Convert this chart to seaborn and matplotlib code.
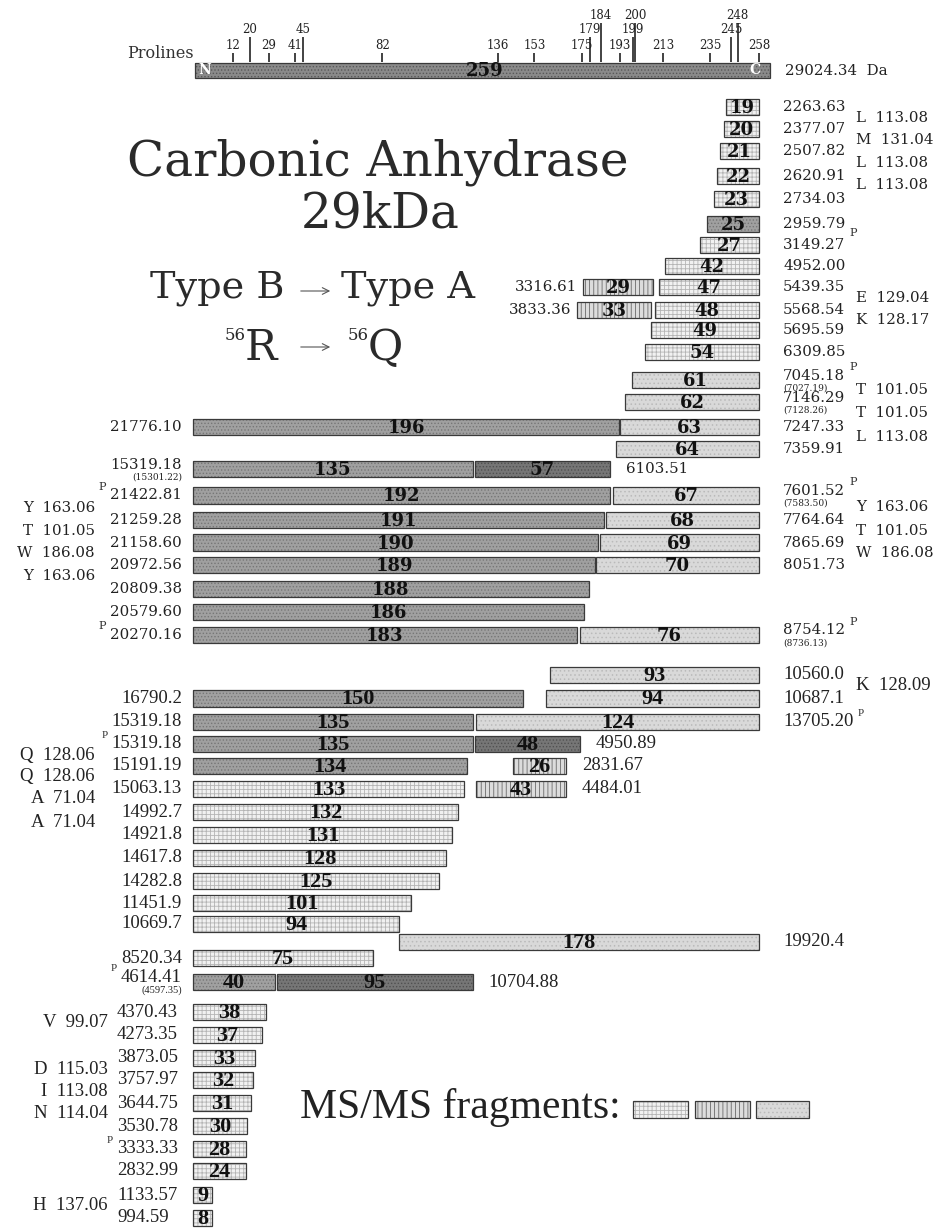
#!/usr/bin/env python3
"""Carbonic anhydrase 29kDa - MS/MS fragment map, redrawn with seaborn/matplotlib."""
import matplotlib

matplotlib.use("Agg")
import matplotlib.pyplot as plt  # noqa: E402
import pandas as pd  # noqa: E402
import seaborn as sns  # noqa: E402

# ---------------------------------------------------------------------------
# Data
# ---------------------------------------------------------------------------
N_RES = 259
PROTEIN_MASS = "29024.34"
PROLINES = [12, 20, 29, 41, 45, 82, 136, 153, 175, 179, 184, 193, 199, 200,
            213, 235, 245, 248, 258]
PROLINE_TIER = [0, 1, 0, 0, 1, 0, 0, 0, 0, 1, 2, 0, 1, 2, 0, 0, 1, 2, 0]

# one entry per fragment bar (start/end in residues as drawn, track = row)
frag_label = [19, 20, 21, 22, 23, 25, 27, 42, 29, 47, 33, 48, 49, 54, 61, 62,
              196, 63, 64, 135, 57, 192, 67, 191, 68, 190, 69, 189, 70, 188,
              186, 183, 76,
              93, 150, 94, 135, 124, 135, 48, 134, 26, 133, 43, 132, 131, 128,
              125, 101, 94, 178, 75, 40, 95, 38, 37, 33, 32, 31, 30, 28, 24,
              9, 8]
frag_track = [0, 0.97, 1.94, 3.04, 4.05, 5.15, 6.08, 7.0, 7.93, 7.93, 8.94,
              8.94, 9.82, 10.79, 12.03, 13.0, 14.1, 14.1, 15.07, 15.95, 15.95,
              17.1, 17.1, 18.19, 18.19, 19.2, 19.2, 20.18, 20.18, 21.23, 22.25,
              23.26, 23.26,
              25.02, 26.04, 26.04, 27.09, 27.09, 28.06, 28.06, 29.03, 29.03,
              30.04, 30.04, 31.06, 32.07, 33.08, 34.1, 35.07, 35.99, 36.78,
              37.49, 38.55, 38.55, 39.87, 40.88, 41.89, 42.86, 43.88, 44.89,
              45.9, 46.87, 47.93, 48.94]
frag_start = [243.9, 243.0, 241.2, 239.8, 238.4, 235.2, 232.0, 216.0, 178.5,
              213.3, 175.7, 211.4, 209.6, 206.9, 200.9, 197.7, 0, 195.4, 193.6,
              0, 129.1, 0, 192.2, 0, 189.0, 0, 186.3, 0, 184.4, 0, 0, 0, 177.1,
              163.4, 0, 161.6, 0, 129.5, 0, 129.1, 0, 146.5, 0, 129.5, 0, 0, 0,
              0, 0, 0, 94.3, 0, 0, 38.4, 0, 0, 0, 0, 0, 0, 0, 0, 0, 0]
frag_end = [259, 259, 259, 259, 259, 259, 259, 259, 210.5, 259, 209.6, 259,
            259, 259, 259, 259, 195.0, 259, 259, 128.1, 190.8, 190.8, 259,
            188.1, 259, 185.4, 259, 184.0, 259, 181.2, 178.9, 175.7, 259,
            259, 151.0, 259, 128.1, 259, 128.1, 177.1, 125.4, 170.7, 124.0,
            170.7, 121.3, 118.5, 115.8, 112.6, 99.8, 94.3, 259, 82.4, 37.5,
            128.1, 33.4, 31.6, 28.4, 27.5, 26.5, 24.7, 24.3, 24.3, 8.7, 8.7]
frag_kind = ["dot", "dot", "dot", "dot", "dot", "mid", "dot", "dot", "grid",
             "dot", "grid", "dot", "dot", "dot", "light", "light", "mid",
             "light", "light", "mid", "dark", "mid", "light", "mid", "light",
             "mid", "light", "mid", "light", "mid", "mid", "mid", "light",
             "light", "mid", "light", "mid", "light", "mid", "dark", "mid",
             "grid", "dot", "grid", "dot", "dot", "dot", "dot", "dot", "dot",
             "light", "dot", "mid", "dark", "dot", "dot", "dot", "dot", "dot",
             "dot", "dot", "dot", "dot", "dot"]
frag_mass = ["2263.63", "2377.07", "2507.82", "2620.91", "2734.03", "2959.79",
             "3149.27", "4952.00", "3316.61", "5439.35", "3833.36", "5568.54",
             "5695.59", "6309.85", "7045.18", "7146.29", "21776.10", "7247.33",
             "7359.91", "15319.18", "6103.51", "21422.81", "7601.52",
             "21259.28", "7764.64", "21158.60", "7865.69", "20972.56",
             "8051.73", "20809.38", "20579.60", "20270.16", "8754.12",
             "10560.0", "16790.2", "10687.1", "15319.18", "13705.20",
             "15319.18", "4950.89", "15191.19", "2831.67", "15063.13",
             "4484.01", "14992.7", "14921.8", "14617.8", "14282.8", "11451.9",
             "10669.7", "19920.4", "8520.34", "4614.41", "10704.88",
             "4370.43", "4273.35", "3873.05", "3757.97", "3644.75", "3530.78",
             "3333.33", "2832.99", "1133.57", "994.59"]
# masses after loss of water, printed under the main value (bar index -> text)
frag_alt = {14: "(7027.19)", 15: "(7128.26)", 19: "(15301.22)",
            22: "(7583.50)", 32: "(8736.13)", 52: "(4597.35)"}
frag_pro = [5, 14, 21, 22, 31, 32, 37, 38, 52, 60]   # bars whose mass carries "P"

# residue differences written between neighbouring rows
right_res = ["L  113.08", "M  131.04", "L  113.08", "L  113.08", "E  129.04",
             "K  128.17", "T  101.05", "T  101.05", "L  113.08", "Y  163.06",
             "T  101.05", "W  186.08", "K  128.09"]
right_res_track = [0.48, 1.45, 2.47, 3.44, 8.4, 9.38, 12.47, 13.48, 14.54,
                   17.6, 18.68, 19.65, 25.5]
left_res = ["Y  163.06", "T  101.05", "W  186.08", "Y  163.06", "Q  128.06",
            "Q  128.06", "A  71.04", "A  71.04", "V  99.07", "D  115.03",
            "I  113.08", "N  114.04", "H  137.06"]
left_res_track = [17.67, 18.68, 19.65, 20.66, 28.55, 29.5, 30.48, 31.5,
                  40.35, 42.4, 43.35, 44.36, 48.4]

# ---------------------------------------------------------------------------
# Layout (pixel geometry of the 944 x 1231 canvas)
# ---------------------------------------------------------------------------
W, H = 944, 1231


def rx(px):   # pixel x -> residue axis of the fragment panel
    return (px - 193) / 2.185


def tx(px):   # pixel x -> residue axis of the full-length bar
    return (px - 207) / 2.14


def ty(py):   # pixel y -> row track
    return (py - 107) / 22.7


STYLES = {
    "dot":   dict(face="#f1f1f1", hatch="++++", hcolor="#b4b4b4"),
    "grid":  dict(face="#dcdcdc", hatch="||||", hcolor="#6a6a6a"),
    "light": dict(face="#d9d9d9", hatch="....", hcolor="#bababa"),
    "mid":   dict(face="#a0a0a0", hatch=".....", hcolor="#767676"),
    "dark":  dict(face="#767676", hatch=".....", hcolor="#505050"),
    "top":   dict(face="#8a8a8a", hatch=".....", hcolor="#585858"),
}
EDGE = "#3a3a3a"
INK = "#222222"
SERIF_UP = "DejaVu Serif"
SERIF_LO = "Liberation Serif"
LOWER_TRACK = 24.5
BOTTOM_TRACK = 39.5

sns.set_theme(style="white")
plt.rcParams["font.family"] = ["DejaVu Serif", "DejaVu Sans"]
plt.rcParams["hatch.linewidth"] = 0.6

df = pd.DataFrame({"label": frag_label, "track": frag_track,
                   "start": frag_start, "end": frag_end,
                   "kind": frag_kind, "mass": frag_mass})
df["width"] = df["end"] - df["start"]
df["lower"] = df["track"] > LOWER_TRACK

fig = plt.figure(figsize=(W / 100, H / 100), dpi=100)
ax = fig.add_axes([0, 0, 1, 1])
ax.set_xlim(rx(0), rx(W))
ax.set_ylim(ty(H), ty(0))
ax_top = fig.add_axes([0, 0, 1, 1])
ax_top.set_xlim(tx(0), tx(W))
ax_top.set_ylim(ty(H), ty(0))
ax_px = fig.add_axes([0, 0, 1, 1])
ax_px.set_xlim(0, W)
ax_px.set_ylim(H, 0)
for a in (ax, ax_top, ax_px):
    a.axis("off")
    a.patch.set_alpha(0)

BAR_H = 0.74


def styled_barh(a, y, width, left, kind, height):
    st = STYLES[kind]
    a.barh(y, width, left=left, height=height, color=st["face"],
           hatch=st["hatch"], edgecolor=st["hcolor"], linewidth=0)
    a.barh(y, width, left=left, height=height, fill=False,
           edgecolor=EDGE, linewidth=0.9)


# ---- fragment bars --------------------------------------------------------
for kind, grp in df.groupby("kind"):
    styled_barh(ax, grp["track"], grp["width"], grp["start"], kind, BAR_H)

renderer = fig.canvas.get_renderer()
inv = ax.transData.inverted()


def text_extent(t):
    bb = t.get_window_extent(renderer=renderer)
    (x0, _), (x1, _) = inv.transform([(bb.x0, 0), (bb.x1, 0)])
    return x0, x1


c_rows = set(df.loc[df["end"] >= N_RES, "track"])
for i, r in df.iterrows():
    fam = SERIF_LO if r["lower"] else SERIF_UP
    fs_num = 16 if r["lower"] else 13
    fs_mass = 13.5 if r["lower"] else 10.8
    ax.text((r["start"] + r["end"]) / 2, r["track"] + 0.04, str(r["label"]),
            ha="center", va="center", fontsize=fs_num, fontweight="bold",
            family=fam, color="#111111")

    alt = frag_alt.get(i)
    my = r["track"] - (0.2 if alt else 0)
    if r["start"] <= 0 and r["track"] > BOTTOM_TRACK:
        x, ha = rx(117), "left"
    elif r["start"] <= 0:
        x, ha = rx(182), "right"
    elif r["end"] >= N_RES:
        x, ha = rx(783), "left"
    elif r["track"] in c_rows:
        x, ha = r["start"] - 6 / 2.185, "right"
    else:
        x, ha = r["end"] + 16 / 2.185, "left"
    t = ax.text(x, my, r["mass"], ha=ha, va="center", fontsize=fs_mass,
                family=fam, color=INK)
    if alt:
        ax.text(x, my + 0.55, alt, ha=ha, va="center",
                fontsize=7.5 if r["lower"] else 6.5, family=fam, color=INK)
    if i in frag_pro:
        x0, x1 = text_extent(t)
        if ha == "right" or r["start"] <= 0:
            ax.text(x0 - 4 / 2.185, my - 0.38, "P", ha="right", va="center",
                    fontsize=8, family=fam, color="#333333")
        else:
            dy = 0.38 if r["label"] == 25 else -0.38
            ax.text(x1 + 4 / 2.185, my + dy, "P", ha="left", va="center",
                    fontsize=8, family=fam, color="#333333")

# ---- residue differences ---------------------------------------------------
for s, y in zip(right_res, right_res_track):
    lower = y > LOWER_TRACK
    ax.text(rx(856), y, s, ha="left", va="center",
            family=SERIF_LO if lower else SERIF_UP,
            fontsize=13.5 if lower else 10.8, color=INK)
for s, y in zip(left_res, left_res_track):
    lower = y > LOWER_TRACK
    xr = 108 if y > BOTTOM_TRACK else 95
    ax.text(rx(xr), y, s, ha="right", va="center",
            family=SERIF_LO if lower else SERIF_UP,
            fontsize=13.5 if lower else 10.8, color=INK)

# ---- full-length protein bar with prolines --------------------------------
top_y = ty(70)
top_h = 15 / 22.7
styled_barh(ax_top, [top_y], [N_RES + 9.6], [-5.6], "top", top_h)
ax_top.text(N_RES / 2, top_y + 0.04, str(N_RES), ha="center", va="center",
            fontsize=13, fontweight="bold", color="#111111")
ax_top.text(-1.2, top_y + 0.02, "N", ha="center", va="center", fontsize=10,
            fontweight="bold", color="white")
ax_top.text(256, top_y + 0.02, "C", ha="center", va="center", fontsize=10,
            fontweight="bold", color="white")
tier_top = [53, 37, 23]
for p, tier in zip(PROLINES, PROLINE_TIER):
    ax_top.vlines(p, ty(tier_top[tier]), ty(62), color=INK, lw=1.2)
    ax_top.text(p, ty(tier_top[tier] - 1), str(p), ha="center", va="bottom",
                fontsize=8.5, color=INK)
ax_px.text(194, 54, "Prolines", ha="right", va="center", fontsize=11.5,
           color="#333333")
ax_px.text(785, 71, f"{PROTEIN_MASS}  Da", ha="left", va="center",
           fontsize=10.8, color=INK)

# ---- titles -----------------------------------------------------------------
ax_px.text(378, 175, "Carbonic Anhydrase", ha="center", va="baseline",
           fontsize=35, color="#2a2a2a")
ax_px.text(380, 227, "29kDa", ha="center", va="baseline", fontsize=35,
           color="#2a2a2a")
ax_px.text(150, 298, "Type B", ha="left", va="baseline", fontsize=27.5,
           color="#2a2a2a")
ax_px.text(341, 298, "Type A", ha="left", va="baseline", fontsize=27.5,
           color="#2a2a2a")
ax_px.text(245, 360, "R", ha="left", va="baseline", fontsize=31,
           color="#2a2a2a")
ax_px.text(368, 360, "Q", ha="left", va="baseline", fontsize=31,
           color="#2a2a2a")
for x56 in (225, 348):
    ax_px.text(x56, 336, "56", ha="left", va="center", fontsize=12,
               color="#2a2a2a")
for ya in (291, 347):
    ax_px.annotate("", xy=(333, ya), xytext=(298, ya),
                   arrowprops=dict(arrowstyle="->", lw=0.8, color="#555555"))

# ---- legend ---------------------------------------------------------------
ax_px.text(300, 1118, "MS/MS fragments:", ha="left", va="baseline",
           fontsize=30, family=SERIF_LO, color=INK)
for kind, (x0, x1) in zip(["dot", "grid", "light"],
                          [(633, 688), (695, 750), (756, 809)]):
    styled_barh(ax_px, [1109], [x1 - x0], [x0], kind, 17)

fig.savefig("out.png", dpi=100)
